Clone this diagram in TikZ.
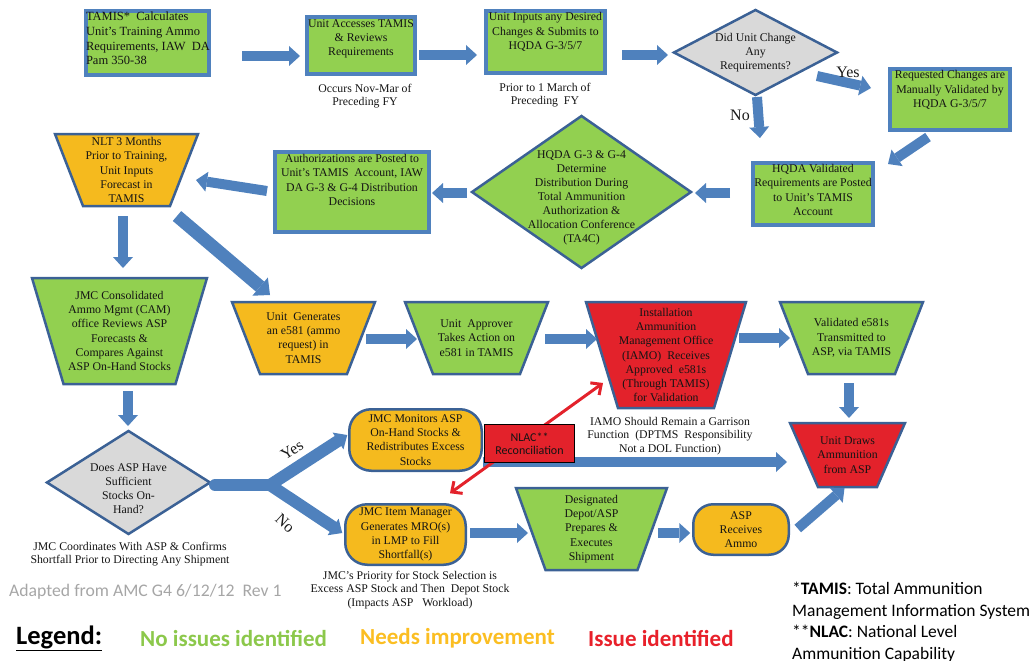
\documentclass[tikz,border=0pt]{standalone}
\usepackage{fontspec}
\setmainfont{Liberation Serif}
\newfontfamily\calib{Carlito}
\usetikzlibrary{arrows.meta,backgrounds,calc}
\definecolor{grn}{HTML}{92D050}
\definecolor{org}{HTML}{F5BA1E}
\definecolor{rd}{HTML}{E3222B}
\definecolor{bdr}{HTML}{4F81BD}
\definecolor{dbdr}{HTML}{3B6195}
\definecolor{arw}{HTML}{4F81BD}
\definecolor{gry}{HTML}{D9D9D9}
\definecolor{lgr}{HTML}{8CC84B}
\definecolor{lyl}{HTML}{FBBE22}
\definecolor{lrd}{HTML}{E8202A}
\definecolor{adg}{HTML}{A6A6A6}
\newcommand\trapbg[3]{\path[#3] (#1.north west) -- (#1.north east) -- ([xshift=-#2pt]#1.south east) -- ([xshift=#2pt]#1.south west) -- cycle;}
\newcommand\diabg[2]{\path[#2] (#1.west) -- (#1.north) -- (#1.east) -- (#1.south) -- cycle;}
\tikzset{
 txt/.style={inner sep=0pt, outer sep=0pt, align=center, text=black!92, font=\fontsize{11.8}{14.2}\selectfont},
 note/.style={txt, font=\fontsize{11.8}{13.2}\selectfont},
 rbox/.style={draw=bdr, fill=grn, line width=4pt, inner sep=0pt, outer sep=0pt},
 rnd/.style={txt, draw=dbdr, fill=org, line width=2.5pt, rounded corners=22pt},
 shg/.style={fill=grn, draw=dbdr, line width=2.5pt},
 sho/.style={fill=org, draw=dbdr, line width=2.5pt},
 shr/.style={fill=rd, draw=dbdr, line width=2.5pt},
 shy/.style={fill=gry, draw=dbdr, line width=2.5pt},
 blk/.style={draw=arw, line width=10pt, -{Triangle[length=11pt,width=20pt,line width=0pt]}},
 blkw/.style={draw=arw, line width=13pt, -{Triangle[length=13pt,width=24pt,line width=0pt]}},
 lab/.style={font=\fontsize{16}{18}\selectfont, inner sep=0pt, text=black!90},
 red2/.style={draw=rd, line width=3pt, {Straight Barb[length=8pt,width=15pt]}-{Straight Barb[length=8pt,width=15pt]}},
 leg/.style={anchor=west, inner sep=0pt, font=\calib\bfseries\fontsize{23}{27}\selectfont},
}
\begin{document}
\begin{tikzpicture}[x=1pt,y=-1pt]
\useasboundingbox (0,0) rectangle (1034,661);

% --- top row rectangles
\node[rbox, minimum width=123pt, minimum height=64pt] (A) at (147.5,43) {};
\node[txt, align=left, anchor=west, font=\fontsize{12.5}{14.6}\selectfont] (At) at (86,38.5) {TAMIS*\ \ Calculates\\Unit's Training Ammo\\Requirements, IAW\ \ DA\\Pam 350-38};
\node[rbox, minimum width=108pt, minimum height=57pt] (B) at (361,45.5) {};
\node[txt] (Bt) at (361,39) {Unit Accesses TAMIS\\\& Reviews\\Requirements};
\node[note] (Bn) at (365,96) {Occurs Nov-Mar of\\Preceding FY};
\node[rbox, minimum width=119pt, minimum height=62pt] (C) at (545.5,42) {};
\node[txt] (Ct) at (545.5,32) {Unit Inputs any Desired\\Changes \& Submits to\\HQDA G-3/5/7};
\node[note] (Cn) at (545,95.5) {Prior to 1 March of\\Preceding\ \ FY};
\node[txt, minimum width=163pt, minimum height=85pt] (D) at (755.5,52.5) {Did Unit Change\\Any\\Requirements?};
\node[rbox, minimum width=120pt, minimum height=61pt] (E) at (950,99.5) {};
\node[txt] (Et) at (950,90) {Requested Changes are\\Manually Validated by\\HQDA G-3/5/7};
\node[rbox, minimum width=120pt, minimum height=62pt] (F) at (813,194) {};
\node[txt] (Ft) at (813,190) {HQDA Validated\\Requirements are Posted\\to Unit's TAMIS\\Account};
\node[txt, minimum width=219pt, minimum height=152pt] (G) at (581.5,192) {};
\node[txt, font=\fontsize{11.8}{14}\selectfont] (Gt) at (581.5,198) {HQDA G-3 \& G-4\\Determine\\Distribution During\\Total Ammunition\\Authorization \&\\Allocation Conference\\(TA4C)};
\node[rbox, minimum width=154pt, minimum height=80pt] (H) at (352,192) {};
\node[txt] (Ht) at (352,180) {Authorizations are Posted to\\Unit's TAMIS\ \ Account, IAW\\DA G-3 \& G-4 Distribution\\Decisions};
\node[txt, minimum width=143pt, minimum height=72pt] (I) at (126.5,170) {NLT 3 Months\\Prior to Training,\\Unit Inputs\\Forecast in\\TAMIS};

% --- middle row
\node[txt, minimum width=175pt, minimum height=106pt] (J) at (119.5,331) {JMC Consolidated\\Ammo Mgmt (CAM)\\office Reviews ASP\\Forecasts \&\\Compares Against\\ASP On-Hand Stocks};
\node[txt, minimum width=143pt, minimum height=72pt] (K) at (303.5,338) {Unit\ \ Generates\\an e581 (ammo\\request) in\\TAMIS};
\node[txt, minimum width=143pt, minimum height=72pt] (M) at (476.5,338) {Unit\ \ Approver\\Takes Action on\\e581 in TAMIS};
\node[txt, minimum width=160pt, minimum height=106pt] (N) at (666,355) {Installation\\Ammunition\\Management Office\\(IAMO)\ \ Receives\\Approved\ \ e581s\\(Through TAMIS)\\for Validation};
\node[txt, minimum width=143pt, minimum height=72pt] (O) at (851.5,338) {Validated e581s\\Transmitted to\\ASP, via TAMIS};
\node[txt, minimum width=115pt, minimum height=64pt] (P) at (847.5,455) {Unit Draws\\Ammunition\\from ASP};
\node[note] (Nn) at (670,436) {IAMO Should Remain a Garrison\\Function\ \ (DPTMS\ \ Responsibility\\Not a DOL Function)};

% --- lower part
\node[txt, minimum width=163pt, minimum height=103pt] (L) at (128.5,482.5) {};
\node[txt] (Lt) at (128.5,488.5) {Does ASP Have\\Sufficient\\Stocks On-\\Hand?};
\node[note] (Ln) at (130,554) {JMC Coordinates With ASP \& Confirms\\Shortfall Prior to Directing Any Shipment};
\node[rnd, minimum width=132.5pt, minimum height=61.5pt] (Q) at (415.5,440) {JMC Monitors ASP\\On-Hand Stocks \&\\Redistributes Excess\\Stocks};
\node[rnd, minimum width=120.5pt, minimum height=60.5pt] (S) at (405.5,534.5) {JMC Item Manager\\Generates MRO(s)\\in LMP to Fill\\Shortfall(s)};
\node[note] (Sn) at (410,590) {JMC's Priority for Stock Selection is\\Excess ASP Stock and Then\ \ Depot Stock\\(Impacts ASP\ \ \ Workload)};
\node[txt, minimum width=151pt, minimum height=82pt] (T) at (591.5,529) {Designated\\Depot/ASP\\Prepares \&\\Executes\\Shipment};
\node[rnd, rounded corners=20pt, minimum width=95.5pt, minimum height=50.5pt] (U) at (741,529.5) {ASP\\Receives\\Ammo};

% --- shapes on background
\begin{scope}[on background layer]
\diabg{D}{shy}
\diabg{G}{shg}
\diabg{L}{shy}
\trapbg{I}{28}{sho}
\trapbg{J}{31.5}{shg}
\trapbg{K}{28}{sho}
\trapbg{M}{28}{shg}
\trapbg{N}{32}{shr}
\trapbg{O}{28}{shg}
\trapbg{P}{28}{shr}
\trapbg{T}{29.5}{shg}
\end{scope}

% --- block arrows
\draw[blk] ($(A.east)+(33,13)$) -- ($(B.west)+(-7,10.5)$);
\draw[blk] ($(B.east)+(4,9.5)$) -- ($(C.west)+(-9,13)$);
\draw[blk] ($(C.east)+(17,13)$) -- ($(D.west)+(-6,2.5)$);
\draw[blk] ($(D.east)+(-20,23.5)$) -- ($(E.west)+(-19,-11.5)$);
\draw[blk] ($(D.south)+(1.5,2)$) -- ($(F.north)+(-53,-25)$);
\draw[blk] ($(E.south)+(-22,7)$) -- ($(F.north east)+(15,1)$);
\draw[blk] ($(F.west)+(-23,-1)$) -- ($(G.east)+(4,1)$);
\draw[blk] ($(G.west)+(-5,1)$) -- ($(H.east)+(3,1)$);
\draw[blk] ($(H.west)+(-8,-1)$) -- ($(I.east)+(-2,10)$);
\draw[blk] ($(I.south)+(-3.5,10)$) -- ($(J.north)+(3.5,-10)$);
\draw[blkw] ($(I.south)+(50.5,10)$) -- ($(K.north)+(-33.5,-7)$);
\draw[blk] ($(J.south)+(8.5,7)$) -- ($(L.north)+(-0.5,-5)$);
\draw[blk] ($(K.east)+(-9,1)$) -- ($(M.west)+(12,1)$);
\draw[blk] ($(M.east)+(-3,1)$) -- ($(N.west)+(11,-16)$);
\draw[blk] ($(N.east)+(-7,-17)$) -- ($(O.west)+(10,0)$);
\draw[blk] ($(O.south)+(-2.5,9)$) -- ($(P.north)+(1.5,-5)$);
\coordinate (fk) at ($(L.east)+(60,2.5)$);
\draw[draw=arw, line width=12pt, line cap=round] ($(L.east)+(5,2.5)$) -- (fk);
\draw[blk, line width=12pt, line cap=round] (fk) -- ($(Q.west)+(-2,-5)$);
\draw[blk, line width=12pt, line cap=round] (fk) -- ($(S.west)+(-3,-1.5)$);
\draw[blk] ($(S.east)+(4,-1.5)$) -- ($(T.west)+(12,4)$);
\draw[blk] ($(T.east)+(-9,4)$) -- ($(U.west)+(-3,3.5)$);
\draw[blk] ($(U.east)+(9,-1)$) -- ($(P.south)+(-3,1)$);
\draw[blk] ($(Q.east)+(1,22)$) -- ($(P.west)+(-3,7)$);
\draw[red2] ($(S.north)+(44.5,-11)$) -- ($(N.west)+(17,28)$);

% --- NLAC box over the connectors
\node[txt, draw=black, fill=rd, line width=1.5pt, minimum width=90pt, minimum height=38pt, font=\calib\fontsize{12}{13}\selectfont] (R) at (529.5,443.5) {NLAC**\\Reconciliation};

% --- branch labels
\node[lab] (yes1) at (848,72) {Yes};
\node[lab] (no1) at (740,115) {No};
\node[lab, rotate=33] (yes2) at (292,450) {Yes};
\node[lab, rotate=-42] (no2) at (285,523) {No};

% --- footer
\node[anchor=west, inner sep=0pt, text=adg, font=\calib\fontsize{17.7}{20}\selectfont] (ad) at (9,592) {Adapted from AMC G4 6/12/12\ \ Rev 1};
\node[leg, font=\calib\bfseries\fontsize{26.5}{30}\selectfont] (lg) at (16,638) {\underline{Legend:}};
\node[leg, text=lgr] (l1) at (140,638) {No issues identified};
\node[leg, text=lyl] (l2) at (360,638) {Needs improvement};
\node[leg, text=lrd] (l3) at (588,638) {Issue identified};
\node[anchor=north west, align=left, inner sep=0pt, font=\calib\fontsize{17.5}{21.5}\selectfont] (fn) at (792,582) {*\textbf{TAMIS}: Total Ammunition\\Management Information System\\**\textbf{NLAC}: National Level\\Ammunition Capability};
\end{tikzpicture}
\end{document}
